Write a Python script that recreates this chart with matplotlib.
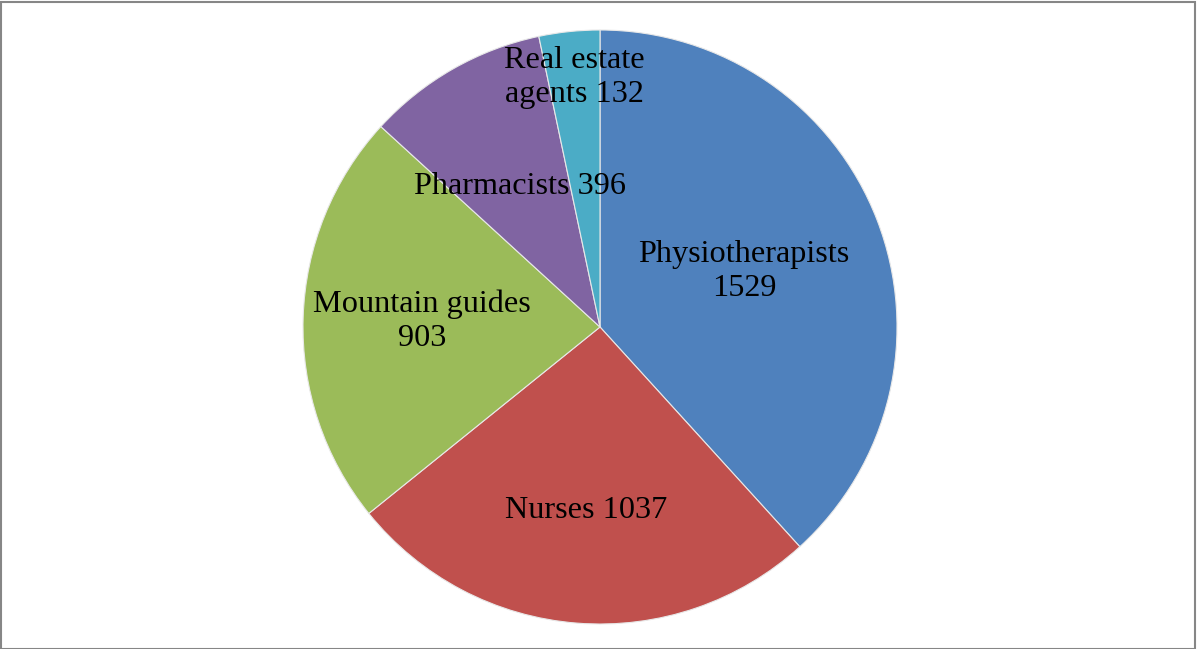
import numpy as np
import matplotlib.pyplot as plt
from matplotlib.patches import Rectangle

plt.rcParams["font.family"] = ["Liberation Serif", "DejaVu Serif"]

labels = ["Physiotherapists\n1529", "Nurses 1037", "Mountain guides\n903",
          "Pharmacists 396", "Real estate\nagents 132"]
values = [1529, 1037, 903, 396, 132]
colors = ["#4F81BD", "#C0504D", "#9BBB59", "#8064A2", "#4BACC6"]
label_r = [0.52, 0.62, 0.60, 0.545, 0.845]

W, H = 1197, 649
fig = plt.figure(figsize=(W / 100, H / 100), dpi=100)
cx, cy, r = 600, 649 - 327, 297
ax = fig.add_axes([(cx - r) / W, (cy - r) / H, 2 * r / W, 2 * r / H])

wedges, _ = ax.pie(values, colors=colors, startangle=90, counterclock=False,
                   wedgeprops=dict(edgecolor="#e8e8e8", linewidth=0.8))
ax.set_xlim(-1, 1)
ax.set_ylim(-1, 1)
ax.axis("off")

for w, lab, d in zip(wedges, labels, label_r):
    mid = np.deg2rad((w.theta1 + w.theta2) / 2)
    ax.text(d * np.cos(mid), d * np.sin(mid), lab, ha="center", va="center",
            fontsize=23.2, linespacing=1.25)

fig.patches.append(Rectangle((0.5 / W, 0.5 / H), 1 - 2.5 / W, 1 - 2.5 / H,
                             transform=fig.transFigure, fill=False,
                             edgecolor="#868686", linewidth=1.5))
fig.savefig("out.png", dpi=100)
